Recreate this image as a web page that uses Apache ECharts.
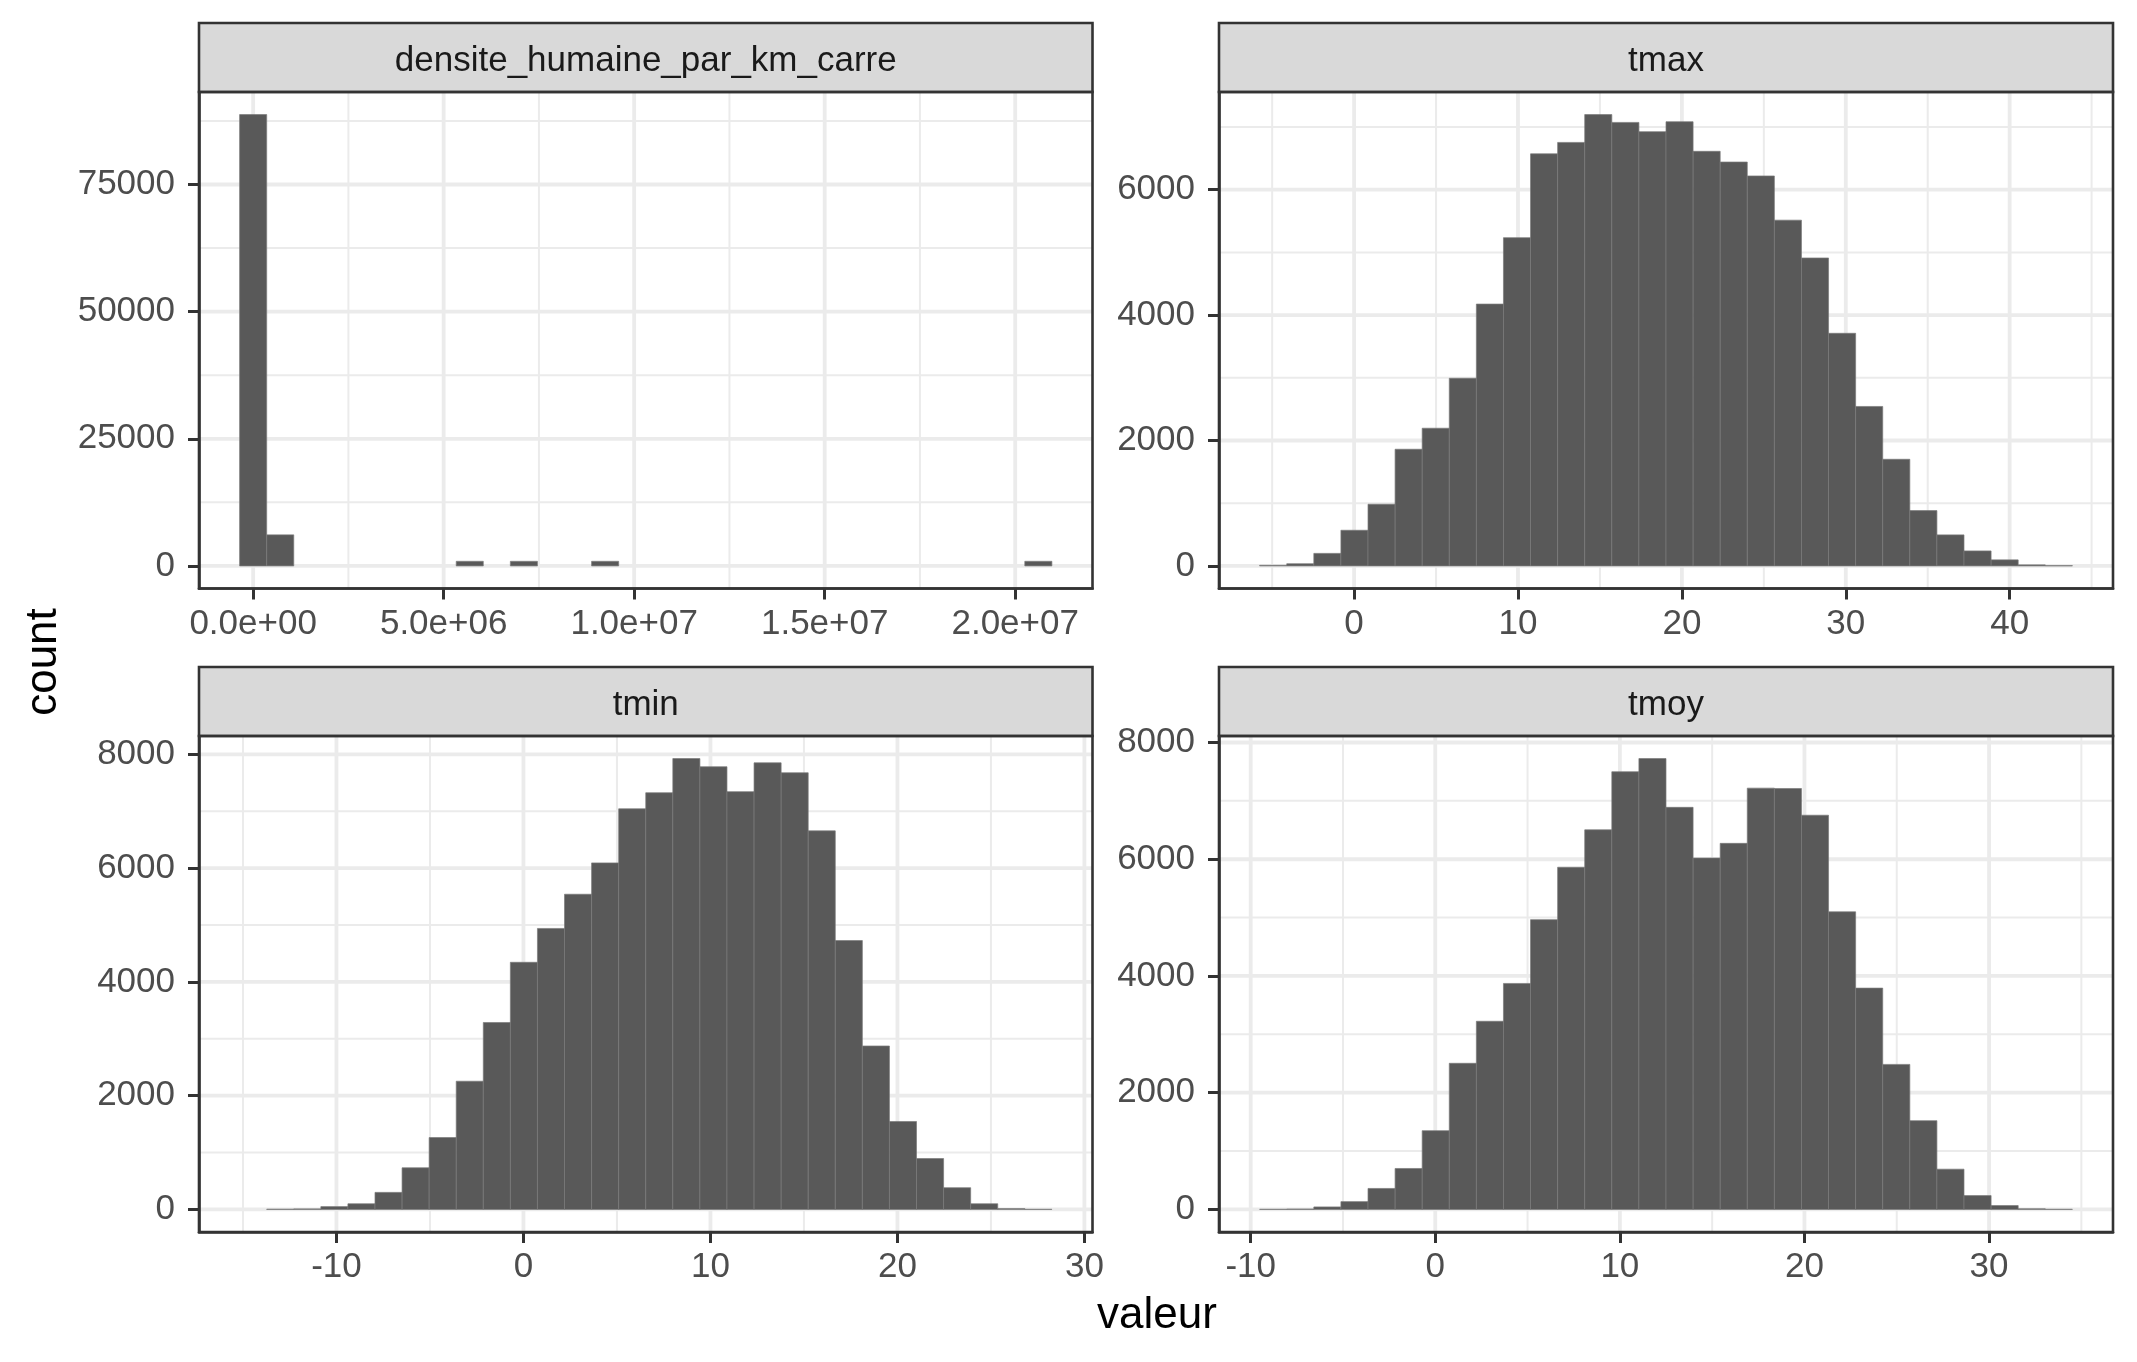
<!DOCTYPE html>
<html><head><meta charset="utf-8">
<script src="https://cdn.jsdelivr.net/npm/echarts@6/dist/echarts.min.js"></script>
<style>html,body{margin:0;padding:0;background:#fff;} #c{width:2137px;height:1362px;}</style>
</head><body><div id="c"></div>
<script>
// ---------- data ----------
const stripTitles = ['densite_humaine_par_km_carre', 'tmax', 'tmin', 'tmoy'];
const xAxisTitle = 'valeur';
const yAxisTitle = 'count';

// densite_humaine_par_km_carre : 30 bins
const densiteBinStart = -355300;
const densiteBinWidth = 710600;
const densiteCounts = [88750, 6110, 0, 0, 0, 0, 0, 0, 910, 0, 910, 0, 0, 910, 0,
  0, 0, 0, 0, 0, 0, 0, 0, 0, 0, 0, 0, 0, 0, 910];
const densiteXTicks = [0, 5e6, 1e7, 1.5e7, 2e7];
const densiteXMinor = [2.5e6, 7.5e6, 12.5e6, 17.5e6];
const densiteYTicks = [0, 25000, 50000, 75000];
const densiteYMinor = [12500, 37500, 62500, 87500];

// tmax
const tmaxBinStart = -5.764;
const tmaxBinWidth = 1.653;
const tmaxCounts = [10, 35, 200, 569, 984, 1861, 2196, 2993, 4176, 5235, 6572, 6754, 7198, 7073, 6925,
  7084, 6612, 6441, 6219, 5514, 4911, 3710, 2543, 1701, 882, 495, 239, 97, 17, 5];
const tmaxXTicks = [0, 10, 20, 30, 40];
const tmaxXMinor = [-5, 5, 15, 25, 35, 45];
const tmaxYTicks = [0, 2000, 4000, 6000];
const tmaxYMinor = [1000, 3000, 5000, 7000];

// tmin
const tminBinStart = -15.18;
const tminBinWidth = 1.448;
const tminCounts = [0, 5, 10, 50, 100, 300, 732, 1264, 2254, 3286, 4344, 4939, 5540, 6091, 7042,
  7324, 7925, 7781, 7343, 7850, 7675, 6654, 4726, 2873, 1546, 895, 382, 100, 15, 3];
const tminXTicks = [-10, 0, 10, 20, 30];
const tminXMinor = [-15, -5, 5, 15, 25];
const tminYTicks = [0, 2000, 4000, 6000, 8000];
const tminYMinor = [1000, 3000, 5000, 7000];

// tmoy
const tmoyBinStart = -9.515;
const tmoyBinWidth = 1.4676;
const tmoyCounts = [3, 8, 43, 134, 360, 702, 1350, 2504, 3224, 3872, 4965, 5863, 6504, 7499, 7725,
  6889, 6021, 6272, 7218, 7212, 6754, 5099, 3792, 2485, 1521, 690, 238, 67, 12, 3];
const tmoyXTicks = [-10, 0, 10, 20, 30];
const tmoyXMinor = [-5, 5, 15, 25, 35];
const tmoyYTicks = [0, 2000, 4000, 6000, 8000];
const tmoyYMinor = [1000, 3000, 5000, 7000];

// ---------- layout / style ----------
const FONT = '"Liberation Sans", Arial, Helvetica, sans-serif';
const layout = [
  { left: 199, top: 92, width: 893.5, height: 496.5 },
  { left: 1219, top: 92, width: 894, height: 496.5 },
  { left: 199, top: 736, width: 893.5, height: 496 },
  { left: 1219, top: 736, width: 894, height: 496 }
];
const STRIP_H = 69;

function sci(v) {
  if (v === 0) return '0.0e+00';
  const e = Math.floor(Math.log10(Math.abs(v)) + 1e-9);
  const m = v / Math.pow(10, e);
  return m.toFixed(1) + 'e' + (e < 0 ? '-' : '+') + String(Math.abs(e)).padStart(2, '0');
}

const panels = [
  { title: stripTitles[0], counts: densiteCounts, start: densiteBinStart, bw: densiteBinWidth,
    xT: densiteXTicks, xM: densiteXMinor, yT: densiteYTicks, yM: densiteYMinor, sci: true },
  { title: stripTitles[1], counts: tmaxCounts, start: tmaxBinStart, bw: tmaxBinWidth,
    xT: tmaxXTicks, xM: tmaxXMinor, yT: tmaxYTicks, yM: tmaxYMinor },
  { title: stripTitles[2], counts: tminCounts, start: tminBinStart, bw: tminBinWidth,
    xT: tminXTicks, xM: tminXMinor, yT: tminYTicks, yM: tminYMinor },
  { title: stripTitles[3], counts: tmoyCounts, start: tmoyBinStart, bw: tmoyBinWidth,
    xT: tmoyXTicks, xM: tmoyXMinor, yT: tmoyYTicks, yM: tmoyYMinor }
];

const grids = [], xAxes = [], yAxes = [], series = [], graphics = [];

panels.forEach((p, i) => {
  const L = layout[i];
  const n = p.counts.length;
  const span = n * p.bw;
  const xmin = p.start - 0.05 * span, xmax = p.start + span + 0.05 * span;
  const M = Math.max.apply(null, p.counts);
  const ymin = -0.05 * M, ymax = 1.05 * M;

  grids.push({ left: L.left, top: L.top, width: L.width, height: L.height, show: false, containLabel: false });

  xAxes.push({
    gridIndex: i, type: 'value', min: xmin, max: xmax, position: 'bottom', z: 5,
    axisLine: { show: true, onZero: false, lineStyle: { color: '#333333', width: 2.6 } },
    splitLine: { show: false },
    axisTick: { show: true, inside: false, customValues: p.xT, length: 11, lineStyle: { color: '#333333', width: 3 } },
    axisLabel: { customValues: p.xT, color: '#4D4D4D', fontSize: 35, fontFamily: FONT, margin: 18,
      formatter: p.sci ? (v => sci(v)) : (v => String(v)) }
  });
  yAxes.push({
    gridIndex: i, type: 'value', min: ymin, max: ymax, position: 'left', z: 5,
    axisLine: { show: true, onZero: false, lineStyle: { color: '#333333', width: 2.6 } },
    splitLine: { show: false },
    axisTick: { show: true, inside: false, customValues: p.yT, length: 11, lineStyle: { color: '#333333', width: 3 } },
    axisLabel: { customValues: p.yT, color: '#4D4D4D', fontSize: 35, fontFamily: FONT, margin: 24,
      padding: [4, 0, 0, 0], formatter: v => String(v) }
  });

  // grid lines (drawn through the axes' scales)
  const vData = p.xM.map(v => [v, 0]).concat(p.xT.map(v => [v, 1]));
  const hData = p.yM.map(v => [v, 0]).concat(p.yT.map(v => [v, 1]));
  series.push({
    type: 'custom', xAxisIndex: i, yAxisIndex: i, silent: true, z: 1, animation: false,
    data: vData,
    renderItem: (params, api) => {
      const cs = params.coordSys;
      const x = api.coord([api.value(0), 0])[0];
      return { type: 'line', shape: { x1: x, y1: cs.y, x2: x, y2: cs.y + cs.height },
        style: { stroke: '#EBEBEB', lineWidth: api.value(1) ? 3.8 : 2 } };
    }
  });
  series.push({
    type: 'custom', xAxisIndex: i, yAxisIndex: i, silent: true, z: 1, animation: false,
    data: hData, encode: { x: -1, y: 0 },
    renderItem: (params, api) => {
      const cs = params.coordSys;
      const y = api.coord([xmin, api.value(0)])[1];
      return { type: 'line', shape: { x1: cs.x, y1: y, x2: cs.x + cs.width, y2: y },
        style: { stroke: '#EBEBEB', lineWidth: api.value(1) ? 3.8 : 2 } };
    }
  });

  // histogram bars
  const barData = p.counts.map((c, k) => [p.start + k * p.bw, p.start + (k + 1) * p.bw, c]);
  series.push({
    type: 'custom', xAxisIndex: i, yAxisIndex: i, silent: true, z: 2, animation: false,
    data: barData, encode: { x: [0, 1], y: 2 },
    renderItem: (params, api) => {
      const c = api.value(2);
      if (!c) return { type: 'group', children: [] };
      const p0 = api.coord([api.value(0), 0]);
      const p1 = api.coord([api.value(1), c]);
      return { type: 'rect',
        shape: { x: p0[0], y: p1[1], width: p1[0] - p0[0], height: p0[1] - p1[1] },
        style: { fill: '#595959', stroke: '#7a7a7a', lineWidth: 0.7 } };
    }
  });

  // strip + panel border
  graphics.push({ type: 'rect', z: 100, silent: true,
    shape: { x: L.left, y: L.top - STRIP_H, width: L.width, height: STRIP_H },
    style: { fill: '#D9D9D9', stroke: '#333333', lineWidth: 2.6 } });
  graphics.push({ type: 'text', z: 101, silent: true, x: L.left + L.width / 2, y: L.top - STRIP_H / 2 + 4,
    style: { text: p.title, fill: '#1A1A1A', font: '35px ' + FONT, align: 'center', verticalAlign: 'middle' } });
  graphics.push({ type: 'rect', z: 100, silent: true,
    shape: { x: L.left, y: L.top, width: L.width, height: L.height },
    style: { fill: 'none', stroke: '#333333', lineWidth: 2.6 } });
});

graphics.push({ type: 'text', z: 101, silent: true, x: 1157, y: 1316,
  style: { text: xAxisTitle, fill: '#000000', font: '44px ' + FONT, align: 'center', verticalAlign: 'middle' } });
graphics.push({ type: 'text', z: 101, silent: true, x: 44, y: 662, rotation: Math.PI / 2,
  style: { text: yAxisTitle, fill: '#000000', font: '44px ' + FONT, align: 'center', verticalAlign: 'middle' } });

const chart = echarts.init(document.getElementById('c'), null, { renderer: 'canvas', width: 2137, height: 1362 });
chart.setOption({
  backgroundColor: '#FFFFFF',
  animation: false,
  grid: grids, xAxis: xAxes, yAxis: yAxes, series: series, graphic: graphics
});
</script></body></html>
